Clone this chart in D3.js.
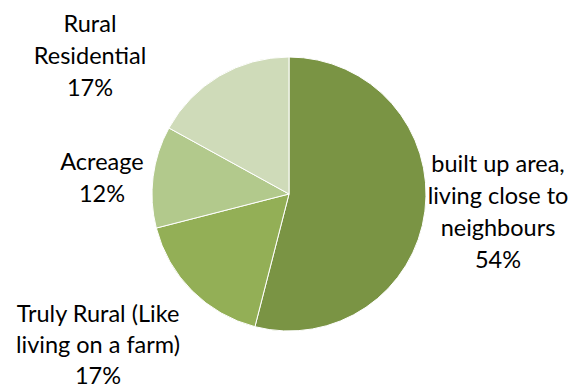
<!DOCTYPE html>
<html>
<head>
<meta charset="utf-8">
<script src="https://cdn.jsdelivr.net/npm/d3@7"></script>
<style>
  html, body { margin: 0; padding: 0; background: #fff; }
  svg text { font-family: Lato, "Open Sans", sans-serif; fill: #000; }
</style>
</head>
<body>
<svg id="chart" width="578" height="389"></svg>
<script>
// Where people live: share of respondents by setting
const categories = [
  "built up area, living close to neighbours",
  "Truly Rural (Like living on a farm)",
  "Acreage",
  "Rural Residential"
];
const values = [54, 17, 12, 17];
const colors = ["#7a9444", "#93af56", "#b2c98c", "#cfdbb9"];
// Label lines as wrapped in the chart
const labelLines = [
  ["built up area,", "living close to", "neighbours"],
  ["Truly Rural (Like", "living on a farm)"],
  ["Acreage"],
  ["Rural", "Residential"]
];
// Label anchor points (centre x, first baseline y, line height)
const labelPos = [[498, 172, 32], [98, 322, 31], [102, 170, 32], [90, 32, 32]];

const svg = d3.select("#chart");
const cx = 289, cy = 194, r = 137;

const data = categories.map((c, i) => ({ name: c, value: values[i], i }));

const pie = d3.pie().value(d => d.value).sort(null);
const arc = d3.arc().innerRadius(0).outerRadius(r);

const g = svg.append("g").attr("transform", `translate(${cx},${cy})`);
g.selectAll("path")
  .data(pie(data))
  .join("path")
  .attr("d", arc)
  .attr("fill", d => colors[d.data.i])
  .attr("stroke", "#fff")
  .attr("stroke-width", 1);

const fmt = d3.format(".0%");
const total = d3.sum(values);

data.forEach((d, i) => {
  const [x, y0, lh] = labelPos[i];
  const lines = labelLines[i].concat([fmt(d.value / total)]);
  const t = svg.append("text")
    .attr("text-anchor", "middle")
    .attr("font-size", 23.5);
  lines.forEach((ln, k) => {
    t.append("tspan")
      .attr("x", x)
      .attr("y", y0 + k * lh)
      .text(ln);
  });
});
</script>
</body>
</html>
